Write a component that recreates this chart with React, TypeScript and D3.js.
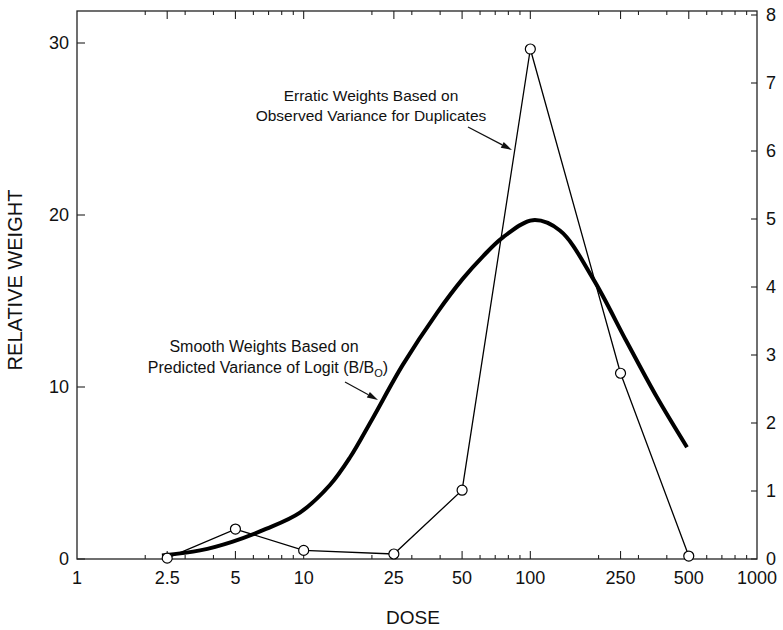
import React from "react";
import * as d3 from "d3";

const doseLabels = [1, 2.5, 5, 10, 25, 50, 100, 250, 500, 1000];
const doseMajorTicks = [2.5, 5, 10, 25, 50, 100, 250, 500];
const doseMinorTicks = [2, 3, 4, 6, 7, 8, 9, 20, 30, 40, 60, 70, 80, 90, 200, 300, 400, 600, 700, 800, 900];
const leftTicks = [0, 10, 20, 30];
const rightTicks = [0, 1, 2, 3, 4, 5, 6, 7, 8];

const erraticDose = [2.5, 5, 10, 25, 50, 100, 250, 500];
const erraticWeight = [0.05, 1.74, 0.5, 0.29, 4.0, 29.65, 10.8, 0.17];

const smoothDose = [2.37, 3.49, 4.83, 6.82, 9.63, 13.06, 16, 20, 27.4, 38.7, 50.4, 61.8, 75.7, 102.6, 135, 189, 267, 362, 491];
const smoothWeight = [0.2, 0.5, 1.0, 1.75, 2.7, 4.3, 5.9, 8.1, 11.3, 14.3, 16.3, 17.6, 18.7, 19.7, 19.1, 16.3, 12.6, 9.4, 6.5];

const W = 783;
const H = 630;
const L = 77, R = 757, T = 11, B = 559;
const FONT = "'Liberation Sans', Arial, Helvetica, sans-serif";
const INK = "#111";

function Arrow({ x1, y1, x2, y2 }: { x1: number; y1: number; x2: number; y2: number }) {
  const ang = Math.atan2(y2 - y1, x2 - x1);
  const len = 11, half = 3.2;
  const bx = x2 - len * Math.cos(ang), by = y2 - len * Math.sin(ang);
  const px = -Math.sin(ang) * half, py = Math.cos(ang) * half;
  return (
    <g>
      <line x1={x1} y1={y1} x2={bx} y2={by} stroke={INK} strokeWidth={1.2} />
      <path d={`M${x2},${y2}L${bx + px},${by + py}L${bx - px},${by - py}Z`} fill={INK} />
    </g>
  );
}

export default function App() {
  const x = d3.scaleLog().domain([1, 1000]).range([L, R]);
  const yL = d3.scaleLinear().domain([0, 30]).range([B, 43]);
  const yR = d3.scaleLinear().domain([0, 8]).range([B, 15]);

  const smoothPts = smoothDose.map((d, i) => [d, smoothWeight[i]] as [number, number]);
  const erraticPts = erraticDose.map((d, i) => [d, erraticWeight[i]] as [number, number]);

  const smoothLine = d3
    .line<[number, number]>()
    .x((d) => x(d[0]))
    .y((d) => yL(d[1]))
    .curve(d3.curveCatmullRom.alpha(0.5));
  const erraticLine = d3
    .line<[number, number]>()
    .x((d) => x(d[0]))
    .y((d) => yL(d[1]));

  return (
    <svg width={W} height={H} style={{ position: "absolute", left: 0, top: 0, background: "#fff" }} fontFamily={FONT}>
      <rect x={0} y={0} width={W} height={H} fill="#fff" />
      <rect x={L} y={T} width={R - L} height={B - T} fill="none" stroke="#222" strokeWidth={1.3} />

      {doseMajorTicks.map((d) => (
        <g key={"M" + d}>
          <line x1={x(d)} x2={x(d)} y1={B} y2={B - 8} stroke="#222" strokeWidth={1.1} />
          <line x1={x(d)} x2={x(d)} y1={T} y2={T + 8} stroke="#222" strokeWidth={1.1} />
        </g>
      ))}
      {doseMinorTicks.map((d) => (
        <g key={"m" + d}>
          <line x1={x(d)} x2={x(d)} y1={B} y2={B - 4} stroke="#222" strokeWidth={1.1} />
          <line x1={x(d)} x2={x(d)} y1={T} y2={T + 4} stroke="#222" strokeWidth={1.1} />
        </g>
      ))}
      {doseLabels.map((d) => (
        <text key={"xl" + d} x={x(d)} y={584} textAnchor="middle" fontSize={18} fill={INK}>
          {String(d)}
        </text>
      ))}

      {leftTicks.map((v) => (
        <g key={"yl" + v}>
          <line x1={L} x2={L + 8} y1={yL(v)} y2={yL(v)} stroke="#222" strokeWidth={1.1} />
          <text x={69} y={yL(v)} dy="0.36em" textAnchor="end" fontSize={18} fill={INK}>
            {v}
          </text>
        </g>
      ))}
      {rightTicks.map((v) => (
        <g key={"yr" + v}>
          <line x1={R - 6} x2={R} y1={yR(v)} y2={yR(v)} stroke="#222" strokeWidth={1.1} />
          <text x={766} y={yR(v)} dy="0.36em" textAnchor="start" fontSize={18} fill={INK}>
            {v}
          </text>
        </g>
      ))}

      <text x={413} y={624} textAnchor="middle" fontSize={19} fill={INK}>
        DOSE
      </text>
      <text transform={`translate(22,280) rotate(-90)`} textAnchor="middle" fontSize={20} fill={INK}>
        RELATIVE WEIGHT
      </text>

      <path d={smoothLine(smoothPts) || ""} fill="none" stroke="#000" strokeWidth={4} strokeLinejoin="round" />

      <path d={erraticLine(erraticPts) || ""} fill="none" stroke="#000" strokeWidth={1.3} />
      {erraticPts.map((p, i) => (
        <circle key={"c" + i} cx={x(p[0])} cy={yL(p[1])} r={5} fill="#fff" stroke="#000" strokeWidth={1.2} />
      ))}

      <text x={371} y={101} textAnchor="middle" fontSize={15.5} fill={INK}>
        Erratic Weights Based on
      </text>
      <text x={371} y={121} textAnchor="middle" fontSize={15.5} fill={INK}>
        Observed Variance for Duplicates
      </text>
      <Arrow x1={468} y1={127} x2={512} y2={150} />

      <text x={264} y={352} textAnchor="middle" fontSize={16} fill={INK}>
        Smooth Weights Based on
      </text>
      <text x={268} y={373} textAnchor="middle" fontSize={16} fill={INK}>
        Predicted Variance of Logit (B/B
        <tspan fontSize={11} dy={4}>O</tspan>
        <tspan dy={-4}>)</tspan>
      </text>
      <Arrow x1={345} y1={382} x2={378} y2={400} />
    </svg>
  );
}
